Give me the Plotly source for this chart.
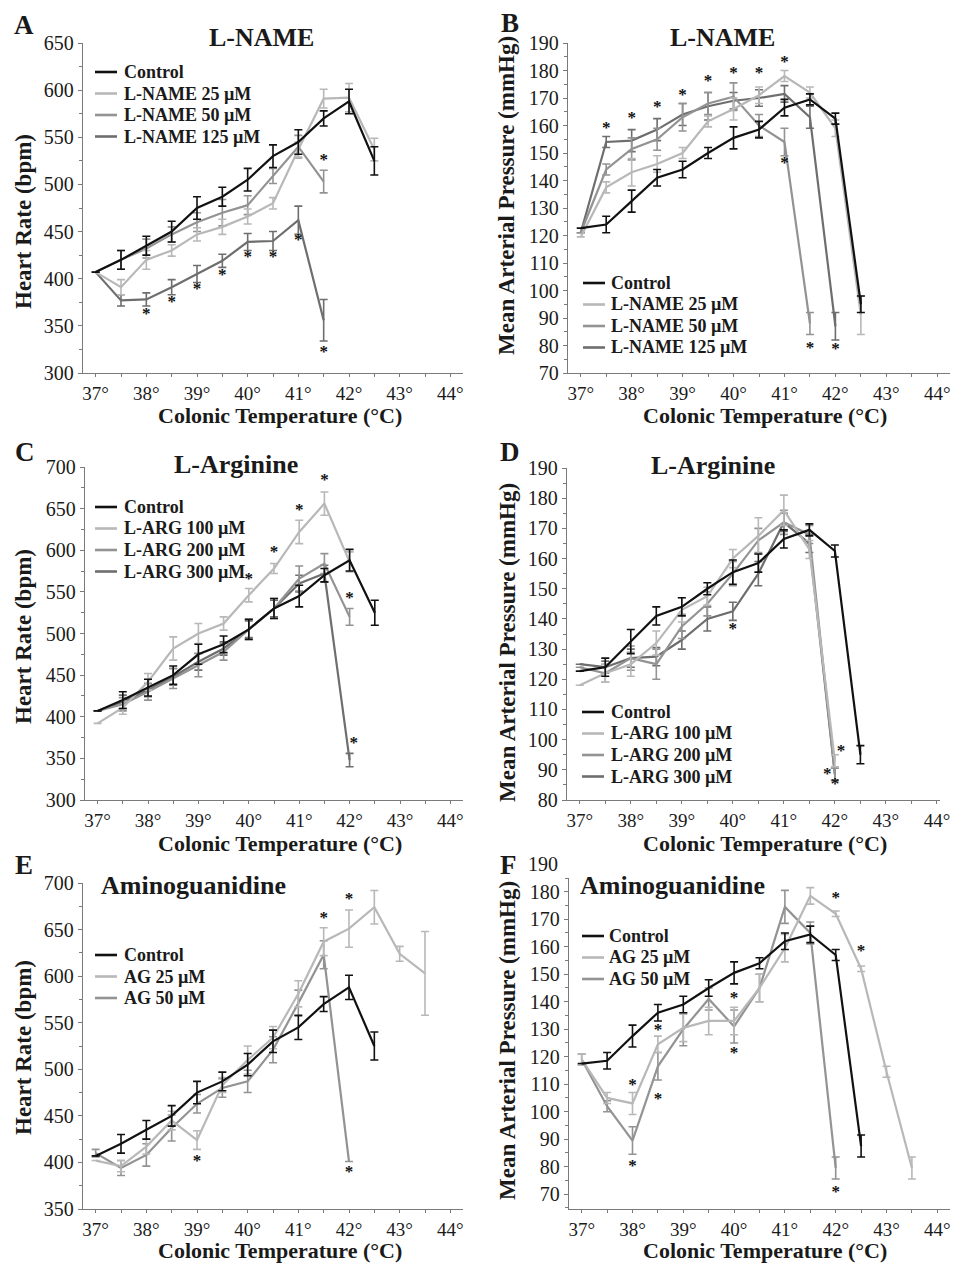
import plotly.graph_objects as go

FONT = "Liberation Serif"
W, H = 966, 1263
PAGE_OFFSET = 8  # the page body margin shifts the figure by 8 px

# ---------------- data ----------------
TEMPS = [37, 37.5, 38, 38.5, 39, 39.5, 40, 40.5, 41, 41.5, 42, 42.5, 43, 43.5]
X_TICKS = [37, 38, 39, 40, 41, 42, 43, 44]
X_TICK_LABELS = ["37°", "38°", "39°", "40°", "41°", "42°", "43°", "44°"]

# Heart rate, control (panels A, C, E)
CONTROL_HR = [407, 420, 435, 450, 475, 487, 505, 530, 545, 570, 588, 525]
CONTROL_HR_ERR = [None, 10, 10, 11, 12, 10, 12, 12, 13, 8, 13, 15]

# Mean arterial pressure, control (panels B, D)
CONTROL_MAP = [122.7, 124, 132.5, 141, 144, 150, 155.5, 158.5, 166.5, 169.5, 162.5, 95]
CONTROL_MAP_ERR = [None, 3, 4, 3, 3, 2, 4, 3, 3, 2, 2, 3]

# Panel A - L-NAME heart rate
LNAME25_HR = [407, 391, 420, 430, 447, 455, 466, 480, 537, 591, 592, 537]
LNAME25_HR_ERR = [None, 8, 10, 6, 7, 8, 8, 6, 8, 10, 15, 12]
LNAME50_HR = [407, 420, 432, 447, 460, 470, 478, 509, 540, 503]
LNAME50_HR_ERR = [None, 10, 10, 8, 10, 14, 10, 8, 12, 12]
LNAME125_HR = [407, 377, 378, 391, 405, 419, 439, 440, 462, 356]
LNAME125_HR_ERR = [None, 6, 7, 8, 9, 7, 9, 10, 15, 22]
STARS_A_X = [38, 38.5, 39, 39.5, 40, 40.5, 41, 41.5, 41.5]
STARS_A_Y = [362, 374, 388, 403, 422, 422, 440, 321, 525]

# Panel B - L-NAME mean arterial pressure
LNAME25_MAP = [119.5, 137.5, 143, 146, 150, 161.5, 166, 171, 178, 172, 159, 91]
LNAME25_MAP_ERR = [None, 2, 5, 3, 2, 2, 4, 3, 2, 2, 3, 7]
LNAME50_MAP = [121, 144, 151.5, 155, 163, 168, 170.5, 160, 154, 88]
LNAME50_MAP_ERR = [None, 2, 4, 4, 5, 4, 5, 4, 5, 4]
LNAME125_MAP = [121, 154, 154.5, 158.5, 164, 167, 169, 170, 171.5, 163, 87]
LNAME125_MAP_ERR = [None, 2, 4, 4, 4, 5, 3, 3, 3, 4, 5]
STARS_B_X = [37.5, 38, 38.5, 39, 39.5, 40, 40.5, 41, 41, 41.5, 42]
STARS_B_Y = [159, 162.5, 166.5, 171, 176, 179, 179, 183, 146, 79, 78.5]

# Panel C - L-Arginine heart rate
LARG100_HR = [392, 411, 442, 482, 500, 512, 546, 578, 622, 656, 586]
LARG100_HR_ERR = [None, 8, 10, 14, 12, 8, 8, 6, 14, 14, 12]
LARG200_HR = [407, 415, 430, 446, 462, 478, 505, 530, 566, 584, 520]
LARG200_HR_ERR = [None, 8, 10, 12, 14, 10, 12, 12, 15, 12, 10]
LARG300_HR = [407, 418, 432, 448, 466, 482, 505, 530, 560, 572, 348]
LARG300_HR_ERR = [None, 8, 8, 10, 10, 8, 10, 10, 10, 10, 8]
STARS_C_X = [40, 40.5, 41, 41.5, 42, 42.08]
STARS_C_Y = [565, 597, 648, 683, 542, 368]

# Panel D - L-Arginine mean arterial pressure
LARG100_MAP = [118, 122, 125, 132, 143, 147.5, 160, 167.5, 176, 163, 93]
LARG100_MAP_ERR = [None, 3, 4, 4, 4, 3, 3, 6, 5, 3, 2]
LARG200_MAP = [124, 122, 127, 125, 137.5, 145, 155, 166, 172, 168, 88.5]
LARG200_MAP_ERR = [None, 3, 4, 5, 4, 4, 4, 4, 4, 3, 2]
LARG300_MAP = [125, 124, 127, 127.5, 133, 140, 142.5, 155, 172, 165, 88.5]
LARG300_MAP_ERR = [None, 2, 3, 3, 3, 4, 3, 4, 3, 3, 2]
STARS_D_X = [40, 41.85, 42.12, 42]
STARS_D_Y = [136.5, 88.5, 96, 85]

# Panel E - Aminoguanidine heart rate
AG25_HR = [402, 396, 417, 445, 424, 483, 510, 534, 581, 637, 651, 674, 624, 603]
AG25_HR_ERR = [None, 6, 8, 10, 10, 8, 15, 12, 14, 15, 20, 18, 8, 45]
AG50_HR = [410, 394, 408, 437, 463, 480, 487, 521, 571, 623, 401]
AG50_HR_ERR = [4, 8, 12, 14, 10, 10, 12, 14, 14, 15, None]
STARS_E_X = [39, 41.5, 42, 42.5, 42]
STARS_E_Y = [401, 662, 682, 703, 389]

# Panel F - Aminoguanidine mean arterial pressure (own control group)
CONTROL_F_MAP = [117.5, 118.5, 127.5, 136, 139, 145, 150.5, 154, 162, 164.5, 157, 87.5]
CONTROL_F_MAP_ERR = [None, 3, 4, 3, 3, 3, 4, 2, 3, 3, 2, 4]
AG25_MAP = [119, 105, 103, 124.5, 130.5, 133, 133, 145, 159.5, 178.5, 172, 152, 114.5, 79.5]
AG25_MAP_ERR = [2, 2, 4, 3, 5, 5, 5, 5, 5, 3, 1, 1, 2, 4]
AG50_MAP = [119, 102, 89.5, 116.5, 130, 141, 131, 145, 174.5, 165, 79.5]
AG50_MAP_ERR = [2, 2, 5, 5, 6, 4, 6, 5, 6, 4, 4]
STARS_F_X = [38, 38, 38.5, 38.5, 40, 40, 41.5, 42, 42.5, 42]
STARS_F_Y = [109.5, 80, 129.5, 104.5, 141, 121, 186, 177.5, 158, 70.5]

# ---------------- style ----------------
BLACK = "#111111"
LIGHT = "#b8b8b8"
MID = "#939393"
DARK = "#6e6e6e"
AXIS_COLOR = "#7a7a7a"
TEXT_COLOR = "#1a1a1a"


def fx(p):
    return (p - PAGE_OFFSET) / W


def fy(p):
    return 1 - (p - PAGE_OFFSET) / H


PANELS = [
    dict(letter="A", letter_pos=(24, 24.5), title="L-NAME", title_pos=(261, 38),
         dom=(83, 463, 43, 373), xr=(36.75, 44.25), yr=(300, 650), dtick=50, tick0=300,
         ytitle="Heart Rate (bpm)", ytitle_pos=(23, 222), xtitle_pos=(280, 416),
         legend=(95, 122, 72),
         series=[("Control", CONTROL_HR, CONTROL_HR_ERR, BLACK),
                 ("L-NAME 25 µM", LNAME25_HR, LNAME25_HR_ERR, LIGHT),
                 ("L-NAME 50 µM", LNAME50_HR, LNAME50_HR_ERR, MID),
                 ("L-NAME 125 µM", LNAME125_HR, LNAME125_HR_ERR, DARK)],
         stars=(STARS_A_X, STARS_A_Y)),
    dict(letter="B", letter_pos=(510, 23), title="L-NAME", title_pos=(722, 38),
         dom=(568, 950, 43, 373), xr=(36.75, 44.25), yr=(70, 190), dtick=10, tick0=70,
         ytitle="Mean Arterial Pressure (mmHg)", ytitle_pos=(506, 196), xtitle_pos=(765, 416),
         legend=(583, 609, 283),
         series=[("Control", CONTROL_MAP, CONTROL_MAP_ERR, BLACK),
                 ("L-NAME 25 µM", LNAME25_MAP, LNAME25_MAP_ERR, LIGHT),
                 ("L-NAME 50 µM", LNAME50_MAP, LNAME50_MAP_ERR, MID),
                 ("L-NAME 125 µM", LNAME125_MAP, LNAME125_MAP_ERR, DARK)],
         stars=(STARS_B_X, STARS_B_Y)),
    dict(letter="C", letter_pos=(25, 452), title="L-Arginine", title_pos=(236, 464),
         dom=(85, 463, 467, 800), xr=(36.75, 44.25), yr=(300, 700), dtick=50, tick0=300,
         ytitle="Heart Rate (bpm)", ytitle_pos=(23, 637), xtitle_pos=(280, 843),
         legend=(95, 122, 507),
         series=[("Control", CONTROL_HR, CONTROL_HR_ERR, BLACK),
                 ("L-ARG 100 µM", LARG100_HR, LARG100_HR_ERR, LIGHT),
                 ("L-ARG 200 µM", LARG200_HR, LARG200_HR_ERR, MID),
                 ("L-ARG 300 µM", LARG300_HR, LARG300_HR_ERR, DARK)],
         stars=(STARS_C_X, STARS_C_Y)),
    dict(letter="D", letter_pos=(510, 452), title="L-Arginine", title_pos=(713, 466),
         dom=(567, 940, 468, 800), xr=(36.75, 44.06), yr=(80, 190), dtick=10, tick0=80,
         ytitle="Mean Arterial Pressure (mmHg)", ytitle_pos=(507, 643), xtitle_pos=(765, 843),
         legend=(582, 609, 712),
         series=[("Control", CONTROL_MAP, CONTROL_MAP_ERR, BLACK),
                 ("L-ARG 100 µM", LARG100_MAP, LARG100_MAP_ERR, LIGHT),
                 ("L-ARG 200 µM", LARG200_MAP, LARG200_MAP_ERR, MID),
                 ("L-ARG 300 µM", LARG300_MAP, LARG300_MAP_ERR, DARK)],
         stars=(STARS_D_X, STARS_D_Y)),
    dict(letter="E", letter_pos=(24, 865), title="Aminoguanidine", title_pos=(193, 885),
         dom=(83, 463, 883, 1209), xr=(36.75, 44.25), yr=(350, 700), dtick=50, tick0=350,
         ytitle="Heart Rate (bpm)", ytitle_pos=(23, 1048), xtitle_pos=(280, 1250),
         legend=(95, 122, 955),
         series=[("Control", CONTROL_HR, CONTROL_HR_ERR, BLACK),
                 ("AG 25 µM", AG25_HR, AG25_HR_ERR, LIGHT),
                 ("AG 50 µM", AG50_HR, AG50_HR_ERR, MID)],
         stars=(STARS_E_X, STARS_E_Y)),
    dict(letter="F", letter_pos=(508, 865), title="Aminoguanidine", title_pos=(672, 886),
         dom=(569, 950, 878, 1209), xr=(36.75, 44.25), yr=(64.6, 185), dtick=10, tick0=70,
         ytitle="Mean Arterial Pressure (mmHg)", ytitle_pos=(507, 1041), xtitle_pos=(765, 1250.5),
         legend=(582, 607, 936),
         series=[("Control", CONTROL_F_MAP, CONTROL_F_MAP_ERR, BLACK),
                 ("AG 25 µM", AG25_MAP, AG25_MAP_ERR, LIGHT),
                 ("AG 50 µM", AG50_MAP, AG50_MAP_ERR, MID)],
         stars=(STARS_F_X, STARS_F_Y), extra_top_label=("190", 864)),
]

fig = go.Figure()
annotations = []
shapes = []
layout_axes = {}


def text_ann(x, y, text, size, weight="bold", xanchor="center", yanchor="middle",
             xref="paper", yref="paper", **kw):
    return dict(x=x, y=y, xref=xref, yref=yref, text=text, showarrow=False,
                xanchor=xanchor, yanchor=yanchor,
                font=dict(family=FONT, size=size, color=TEXT_COLOR, weight=weight), **kw)


for i, p in enumerate(PANELS, start=1):
    sfx = "" if i == 1 else str(i)
    xref, yref = "x" + sfx, "y" + sfx
    x0, x1, y0, y1 = p["dom"]
    common = dict(showline=True, linecolor=AXIS_COLOR, linewidth=1.3,
                  ticks="outside", tickwidth=1.2, tickcolor=AXIS_COLOR,
                  showgrid=False, zeroline=False, fixedrange=True, automargin=False)
    layout_axes["xaxis" + sfx] = dict(
        common, domain=[fx(x0), fx(x1)], range=list(p["xr"]), anchor=yref,
        tickvals=X_TICKS, ticktext=X_TICK_LABELS, ticklen=3,
        tickfont=dict(family=FONT, size=19, color=TEXT_COLOR),
        minor=dict(dtick=0.5, tick0=37, ticks="outside", ticklen=3,
                   tickcolor=AXIS_COLOR, tickwidth=1))
    layout_axes["yaxis" + sfx] = dict(
        common, domain=[fy(y1), fy(y0)], range=list(p["yr"]), anchor=xref,
        tick0=p["tick0"], dtick=p["dtick"], ticklen=4,
        tickfont=dict(family=FONT, size=20, color=TEXT_COLOR),
        minor=dict(dtick=p["dtick"] / 2, ticks="outside", ticklen=3,
                   tickcolor=AXIS_COLOR, tickwidth=1))

    # data traces: treated series first, control on top
    for name, vals, errs, color in reversed(p["series"]):
        fig.add_trace(go.Scatter(
            x=TEMPS[:len(vals)], y=vals, mode="lines", name=name,
            line=dict(color=color, width=2.2),
            error_y=dict(type="data", array=errs, color=color, thickness=1.6, width=4),
            xaxis=xref, yaxis=yref, showlegend=False, cliponaxis=False))

    # significance asterisks
    sx, sy = p["stars"]
    fig.add_trace(go.Scatter(
        x=sx, y=sy, mode="text", text=["*"] * len(sx), textposition="middle center",
        textfont=dict(family=FONT, size=17, color=BLACK, weight="bold"),
        xaxis=xref, yaxis=yref, showlegend=False, cliponaxis=False, hoverinfo="skip"))

    # manual legend
    lx, tx, ly = p["legend"]
    for k, (name, vals, errs, color) in enumerate(p["series"]):
        yy = ly + k * 21.5
        shapes.append(dict(type="line", xref="paper", yref="paper",
                           x0=fx(lx), x1=fx(lx + 22), y0=fy(yy), y1=fy(yy),
                           line=dict(color=color, width=2.6)))
        annotations.append(text_ann(fx(tx), fy(yy), name, 18, xanchor="left"))

    # panel letter and title
    annotations.append(text_ann(fx(p["letter_pos"][0]), fy(p["letter_pos"][1]), p["letter"], 27))
    annotations.append(text_ann(fx(p["title_pos"][0]), fy(p["title_pos"][1]), p["title"], 26))
    # axis titles
    annotations.append(text_ann(fx(p["ytitle_pos"][0]), fy(p["ytitle_pos"][1]), p["ytitle"], 23,
                                textangle=-90))
    annotations.append(text_ann(fx(p["xtitle_pos"][0]), fy(p["xtitle_pos"][1]),
                                "Colonic Temperature (°C)", 22))
    if p.get("extra_top_label"):
        lab, ypx = p["extra_top_label"]
        annotations.append(text_ann(fx(x0 - 9), fy(ypx), lab, 20,
                                    weight="normal", xanchor="right"))

fig.update_layout(
    template="none",
    width=W, height=H,
    margin=dict(l=0, r=0, t=0, b=0, autoexpand=False),
    paper_bgcolor="white", plot_bgcolor="white",
    showlegend=False,
    annotations=annotations, shapes=shapes,
    **layout_axes,
)

fig.write_html("out.html")
